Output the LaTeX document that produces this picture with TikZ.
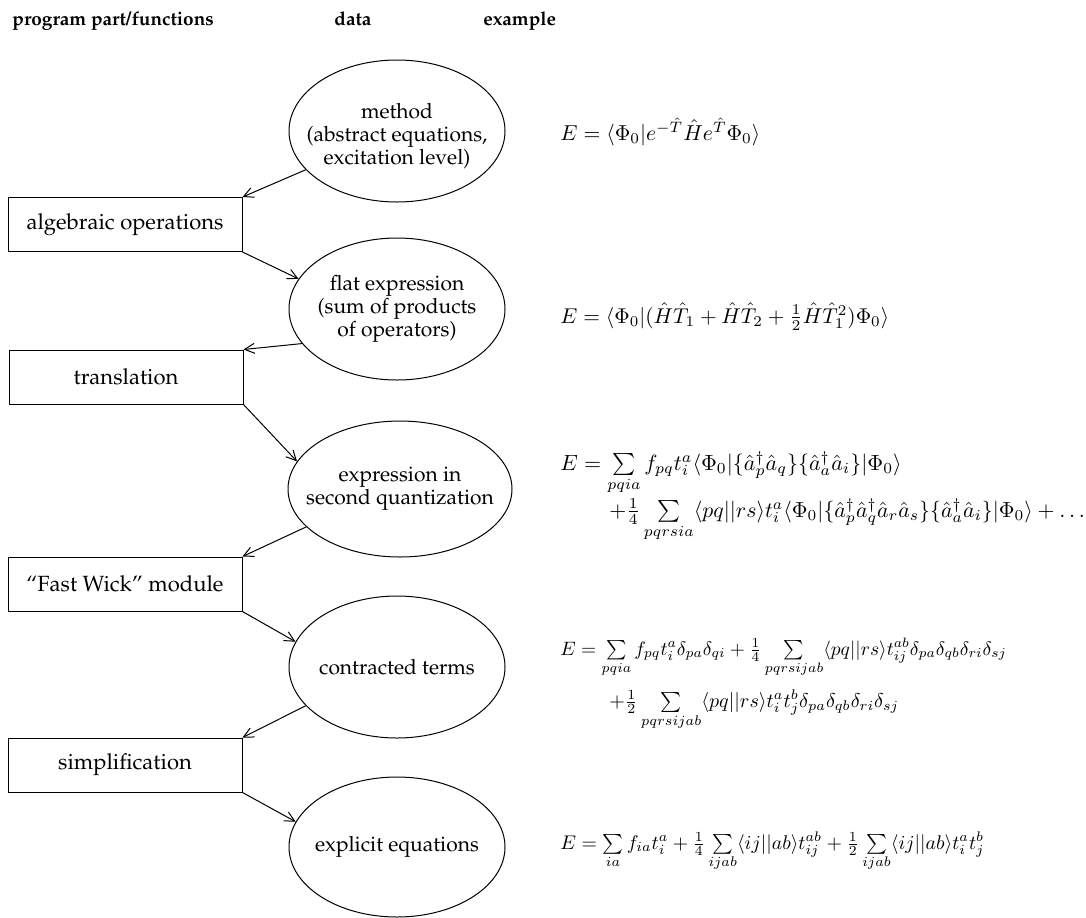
\documentclass[tikz,border=0pt]{standalone}
\usepackage[T1]{fontenc}
\usepackage{graphicx}
\renewcommand{\rmdefault}{ppl}
\usetikzlibrary{shapes.geometric,arrows.meta}
% an example formula, set at a given magnification
\newcommand{\exmath}[2]{\scalebox{#1}{$#2$}}
\begin{document}
\begin{tikzpicture}[x=0.5pt,y=-0.5pt,
  every node/.style={font=\fontsize{11}{11.3}\selectfont},
  databox/.style={ellipse,draw,line width=0.5pt,minimum width=108pt,minimum height=71pt,inner sep=0pt},
  datatext/.style={label={[align=center,inner sep=0pt,font=\fontsize{10.5}{11.4}\selectfont]center:{#1}}},
  progbox/.style={rectangle,draw,line width=0.5pt,minimum width=117pt,minimum height=27pt,inner sep=0pt},
  flow/.style={-{Straight Barb[length=5pt,width=5pt]},line width=0.5pt},
  eqn/.style={anchor=base west,inner sep=0pt,font=\fontsize{10}{12}\selectfont},
  head/.style={anchor=base west,inner sep=0pt,font=\fontsize{9.5}{11}\selectfont\bfseries}]
\useasboundingbox (0,0) rectangle (1086,917);

% column headings
\node[head] (h1) at (12,25) {program part/functions};
\node[head] (h2) at (334,25) {data};
\node[head] (h3) at (483,25) {example};

% data stages: fixed-size ellipses with their captions centred inside
\node[databox,label={[align=center,inner sep=0pt,font=\fontsize{10.5}{11.4}\selectfont,yshift=-2.5pt]center:{method\\(abstract equations,\\excitation level)}}] (meth) at (397,131) {};
\node[databox,datatext={flat expression\\(sum of products\\of operators)}] (flat) at (397,309) {};
\node[databox,minimum width=112pt,minimum height=68pt,datatext={expression in\\second quantization}] (secq) at (400,489) {};
\node[databox,datatext={contracted terms}] (contr) at (397,667) {};
\node[databox,minimum height=70pt,datatext={explicit equations}] (expl) at (397,847) {};

% program parts
\node[progbox] (alg) at (125,224.5) {algebraic operations};
\node[progbox] (trans) at (126,377) {translation};
\node[progbox] (wick) at (125,584) {``Fast Wick'' module};
\node[progbox] (simp) at (125,765) {simplification};

% flow of the program
\draw[flow] (meth.203) -- (alg.north east);
\draw[flow] (alg.south east) -- (flat.163);
\draw[flow] (flat.200) -- (trans.north east);
\draw[flow] (trans.south east) -- (secq.165);
\draw[flow] (secq.202) -- (wick.north east);
\draw[flow] (wick.south east) -- (contr.166);
\draw[flow] (contr.203) -- (simp.north east);
\draw[flow] (simp.south east) -- (expl.166);

% examples
\node[eqn] (e1) at (560,140) {\exmath{1.08}{E=\langle\Phi_0|e^{-\hat T}\hat H e^{\hat T}\Phi_0\rangle}};
\node[eqn] (e2) at (560,323) {\exmath{1.07}{E=\langle\Phi_0|(\hat H\hat T_1+\hat H\hat T_2+\frac12\hat H\hat T_1^2)\Phi_0\rangle}};
\node[eqn] (e3a) at (560,470) {\exmath{1.1}{E=\sum\limits_{pqia} f_{pq}t_i^a\langle\Phi_0|\{\hat a_p^\dagger\hat a_q\}\{\hat a_a^\dagger\hat a_i\}|\Phi_0\rangle}};
\node[eqn] (e3b) at (609,517) {\exmath{1.09}{+\frac14\sum\limits_{pqrsia}\langle pq||rs\rangle t_i^a\langle\Phi_0|\{\hat a_p^\dagger\hat a_q^\dagger\hat a_r\hat a_s\}\{\hat a_a^\dagger\hat a_i\}|\Phi_0\rangle+\ldots}};
\node[eqn] (e4a) at (560,655) {\exmath{0.97}{E=\sum\limits_{pqia} f_{pq}t_i^a\delta_{pa}\delta_{qi}+\frac14\sum\limits_{pqrsijab}\langle pq||rs\rangle t_{ij}^{ab}\delta_{pa}\delta_{qb}\delta_{ri}\delta_{sj}}};
\node[eqn] (e4b) at (609,707) {\exmath{1.0}{+\frac12\sum\limits_{pqrsijab}\langle pq||rs\rangle t_i^at_j^b\delta_{pa}\delta_{qb}\delta_{ri}\delta_{sj}}};
\node[eqn] (e5) at (560,849) {\exmath{0.99}{E=\sum\limits_{ia}f_{ia}t_i^a+\frac14\sum\limits_{ijab}\langle ij||ab\rangle t_{ij}^{ab}+\frac12\sum\limits_{ijab}\langle ij||ab\rangle t_i^at_j^b}};
\end{tikzpicture}
\end{document}
